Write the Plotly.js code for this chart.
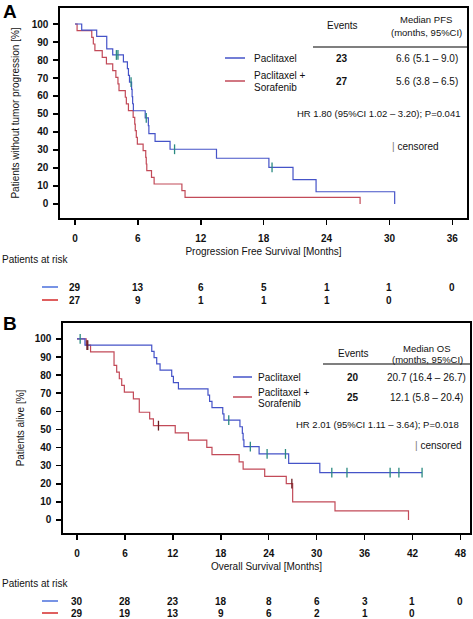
<!DOCTYPE html>
<html><head><meta charset="utf-8">
<script src="https://cdn.plot.ly/plotly-3.0.1.min.js"></script>
<style>html,body{margin:0;padding:0;background:#fff;} #chart{width:473px;height:619px;}</style>
</head><body><div id="chart"></div>
<script>
// ---------- Panel A: Progression free survival ----------
const pfsPacT = [0, 0.64, 2.07, 3.03, 3.6, 4.62, 5.0, 5.1, 5.2, 5.4, 5.45, 5.5, 5.57, 6.7, 7.0, 7.05, 7.64, 9.07, 13.5, 18.5, 20.8, 23.0, 30.5];
const pfsPacS = [100, 96.6, 93.1, 86.2, 82.8, 79.0, 75.2, 71.5, 67.7, 63.7, 59.7, 55.7, 51.8, 47.8, 43.5, 39.1, 34.8, 30.4, 25.4, 20.3, 13.5, 6.8, 0];
const pfsPacCens = [3.95, 4.1, 5.35, 6.8, 9.5, 18.8];
const pfsSorT = [0, 0.2, 1.6, 1.75, 1.9, 2.6, 3.0, 3.6, 3.9, 4.1, 4.2, 4.8, 4.9, 5.1, 5.55, 5.7, 5.75, 5.85, 5.95, 6.5, 6.75, 6.8, 6.85, 7.3, 7.55, 10.2, 10.5, 27.2];
const pfsSorS = [100, 96.3, 92.6, 88.9, 85.2, 81.5, 77.8, 74.1, 70.4, 66.7, 63.0, 59.3, 55.6, 51.9, 48.1, 44.4, 40.7, 37.0, 33.3, 29.6, 25.9, 22.2, 18.5, 14.8, 11.1, 7.4, 3.7, 0];
const pfsTicks = [0, 6, 12, 18, 24, 30, 36];
const pfsRiskPac = ["29", "13", "6", "5", "1", "1", "0"];
const pfsRiskSor = ["27", "9", "1", "1", "1", "0"];

// ---------- Panel B: Overall survival ----------
const osPacT = [0, 1.0, 9.36, 9.65, 9.98, 10.4, 11.86, 12.07, 12.7, 16.4, 16.6, 16.9, 18.25, 18.4, 20.4, 20.7, 20.8, 20.9, 22.8, 26.5, 30.4, 43.2];
const osPacS = [100, 96.6, 93.1, 89.7, 86.2, 82.8, 79.3, 75.9, 72.4, 69.0, 65.5, 62.1, 58.6, 55.2, 51.5, 47.8, 44.2, 40.5, 36.5, 31.3, 26.1, 26.1];
const osPacCens = [0.4, 19.0, 21.7, 23.8, 26.1, 31.9, 33.8, 39.2, 40.3, 43.2];
const osSorT = [0, 1.15, 1.7, 4.64, 4.97, 5.3, 5.6, 5.93, 7.06, 7.8, 9.1, 9.57, 12.3, 13.95, 16.25, 16.9, 20.3, 20.8, 23.5, 26.2, 27.0, 32.3, 41.5];
const osSorS = [100, 96.6, 92.8, 85.4, 81.7, 78.0, 74.3, 70.6, 66.9, 59.5, 55.8, 52.1, 48.1, 44.1, 40.1, 36.1, 32.1, 28.1, 24.1, 20.1, 10.0, 5.0, 0];
const osSorCens = [1.25, 1.35, 10.2, 26.9];
const osTicks = [0, 6, 12, 18, 24, 30, 36, 42, 48];
const osRiskPac = ["30", "28", "23", "18", "8", "6", "3", "1", "0"];
const osRiskSor = ["29", "19", "13", "9", "6", "2", "1", "0"];

const yTicks = [0, 10, 20, 30, 40, 50, 60, 70, 80, 90, 100];

// ---------- helpers ----------
const W = 473, H = 619;
const px = x => x / W;
const py = y => 1 - y / H;
function levelAt(ts, ss, t) { let v = ss[0]; for (let i = 0; i < ts.length; i++) { if (ts[i] <= t) v = ss[i]; else break; } return v; }

const FONT = "Liberation Sans, Arial, sans-serif";
const BLUE = "#4553c8", RED = "#c24a58", CENS_B = "#2a8a80", CENS_R = "#6a1e22";

function curve(t, s, color, xa, ya) {
  return { x: t, y: s, mode: "lines", line: { shape: "hv", color: color, width: 1.2 }, xaxis: xa, yaxis: ya, hoverinfo: "skip" };
}
function cens(ct, t, s, color, xa, ya) {
  return { x: ct, y: ct.map(c => levelAt(t, s, c)), mode: "markers", xaxis: xa, yaxis: ya,
    marker: { symbol: "line-ns-open", size: 7, line: { width: 1.3, color: color }, color: color }, hoverinfo: "skip" };
}

const data = [
  curve(pfsSorT, pfsSorS, RED, "x", "y"),
  curve(pfsPacT, pfsPacS, BLUE, "x", "y"),
  cens(pfsPacCens, pfsPacT, pfsPacS, CENS_B, "x", "y"),
  curve(osSorT, osSorS, RED, "x2", "y2"),
  curve(osPacT, osPacS, BLUE, "x2", "y2"),
  cens(osPacCens, osPacT, osPacS, CENS_B, "x2", "y2"),
  cens(osSorCens, osSorT, osSorS, CENS_R, "x2", "y2")
];

const tickFont = { family: FONT, size: 10, color: "#111", weight: "bold" };
function xAxis(dom, rng, ticks, title, anchor) {
  return { domain: dom, range: rng, tickvals: ticks, ticktext: ticks.map(String), anchor: anchor,
    showgrid: false, zeroline: false, showline: true, mirror: true, linecolor: "#000", linewidth: 1.6,
    ticks: "outside", ticklen: 5, tickwidth: 1.5, tickcolor: "#000", tickfont: tickFont, ticklabelstandoff: 5,
    title: { text: title, font: { family: FONT, size: 10, color: "#111" }, standoff: 5 } };
}
function yAxis(dom, rng, title, anchor, standoff) {
  return { domain: dom, range: rng, tickvals: yTicks, ticktext: yTicks.map(String), anchor: anchor,
    showgrid: false, zeroline: false, showline: true, mirror: true, linecolor: "#000", linewidth: 1.6,
    ticks: "outside", ticklen: 5, tickwidth: 1.5, tickcolor: "#000", tickfont: tickFont, ticklabelstandoff: 3,
    title: { text: title, font: { family: FONT, size: 10, color: "#111" }, standoff: standoff } };
}

const ann = [];
function txt(text, x, y, opts) {
  ann.push(Object.assign({ text: text, x: px(x), y: py(y), xref: "paper", yref: "paper", showarrow: false,
    xanchor: "center", yanchor: "middle", font: { family: FONT, size: 10, color: "#111" } }, opts || {}));
}
const small = { font: { family: FONT, size: 9.5, color: "#111" } };
const bold = { font: { family: FONT, size: 10, color: "#111", weight: "bold" } };
// Panel labels
txt("<b>A</b>", 1, 11, { xanchor: "left", font: { family: FONT, size: 19, color: "#000" } });
txt("<b>B</b>", 1, 323, { xanchor: "left", font: { family: FONT, size: 19, color: "#000" } });

// Panel A table
txt("Events", 342, 26);
txt("Median PFS", 426, 20, small);
txt("(months, 95%CI)", 426, 32, small);
txt("Paclitaxel", 252, 58, { xanchor: "left" });
txt("23", 342, 58, bold);
txt("6.6 (5.1 – 9.0)", 427, 58);
txt("Paclitaxel +", 252, 76, { xanchor: "left" });
txt("Sorafenib", 252, 87, { xanchor: "left" });
txt("27", 342, 81, bold);
txt("5.6 (3.8 – 6.5)", 427, 81);
txt("HR 1.80 (95%CI 1.02 – 3.20); P=0.041", 378, 113, small);
txt("<span style='color:#777'>|</span> censored", 390, 146, { xanchor: "left" });

// Panel B table
txt("Events", 353, 353);
txt("Median OS", 427, 348, small);
txt("(months, 95%CI)", 427, 359, small);
txt("Paclitaxel", 256, 377, { xanchor: "left" });
txt("20", 353, 377, bold);
txt("20.7 (16.4 – 26.7)", 426, 377);
txt("Paclitaxel +", 256, 392, { xanchor: "left" });
txt("Sorafenib", 256, 403, { xanchor: "left" });
txt("25", 353, 397, bold);
txt("12.1 (5.8 – 20.4)", 426, 397);
txt("HR 2.01 (95%CI 1.11 – 3.64); P=0.018", 377, 424, small);
txt("<span style='color:#777'>|</span> censored", 413, 446, { xanchor: "left" });

// Patients at risk
txt("Patients at risk", 0, 259, { xanchor: "left" });
txt("Patients at risk", 0, 583, { xanchor: "left" });
const riskFont = { family: FONT, size: 10, color: "#111", weight: "bold" };
pfsRiskPac.forEach((v, i) => ann.push({ text: v, x: pfsTicks[i], xref: "x", y: py(287), yref: "paper", showarrow: false, xanchor: "center", yanchor: "middle", font: riskFont }));
pfsRiskSor.forEach((v, i) => ann.push({ text: v, x: pfsTicks[i], xref: "x", y: py(300), yref: "paper", showarrow: false, xanchor: "center", yanchor: "middle", font: riskFont }));
osRiskPac.forEach((v, i) => ann.push({ text: v, x: osTicks[i], xref: "x2", y: py(601), yref: "paper", showarrow: false, xanchor: "center", yanchor: "middle", font: riskFont }));
osRiskSor.forEach((v, i) => ann.push({ text: v, x: osTicks[i], xref: "x2", y: py(613), yref: "paper", showarrow: false, xanchor: "center", yanchor: "middle", font: riskFont }));

const shapes = [];
function hline(x0, x1, y, color, w) {
  shapes.push({ type: "line", xref: "paper", yref: "paper", x0: px(x0), x1: px(x1), y0: py(y), y1: py(y), line: { color: color, width: w } });
}
hline(313, 467, 47, "#555", 1.5);
hline(225, 245, 58, BLUE, 1.5);
hline(225, 245, 81, RED, 1.5);
hline(323, 470, 364, "#555", 1.5);
hline(233, 252, 377, BLUE, 1.5);
hline(233, 252, 397, RED, 1.5);
hline(42, 58, 287, "#4a6fdc", 1.5);
hline(42, 58, 300, "#d42a2a", 1.5);
hline(42, 58, 601, "#4a6fdc", 1.5);
hline(42, 58, 613, "#d42a2a", 1.5);

const layout = {
  width: W, height: H, margin: { l: 0, r: 0, t: 0, b: 0 }, paper_bgcolor: "#fff", plot_bgcolor: "#fff",
  showlegend: false, font: { family: FONT, size: 10, color: "#111" },
  xaxis: xAxis([60 / W, 467 / W], [-1.43, 37.4], pfsTicks, "Progression Free Survival [Months]", "y"),
  yaxis: yAxis([1 - 218 / H, 1 - 8 / H], [-7.8, 108.9], "Patients without tumor progression [%]", "x", 10),
  xaxis2: xAxis([63 / W, 470 / W], [-1.75, 49.2], osTicks, "Overall Survival [Months]", "y2"),
  yaxis2: yAxis([1 - 533 / H, 1 - 323 / H], [-7.2, 108.8], "Patients alive [%]", "x2", 8),
  annotations: ann, shapes: shapes
};
Plotly.newPlot("chart", data, layout, { staticPlot: true, displayModeBar: false });
</script></body></html>
